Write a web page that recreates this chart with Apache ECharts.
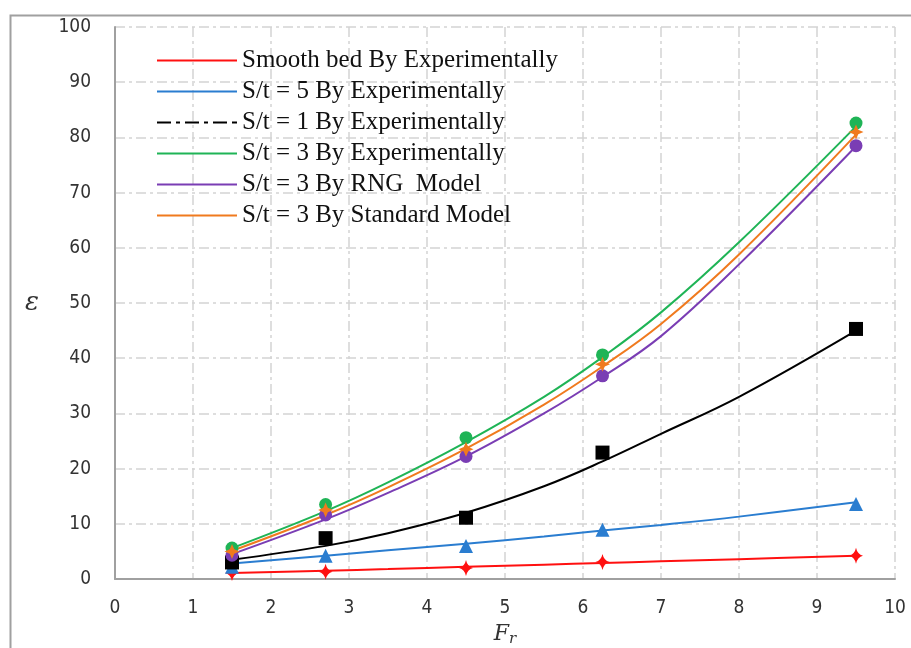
<!DOCTYPE html>
<html>
<head>
<meta charset="utf-8">
<script src="https://cdn.jsdelivr.net/npm/echarts@6/dist/echarts.min.js"></script>
<style>html,body{margin:0;padding:0;background:#fff;}#c{width:911px;height:648px;}</style>
</head>
<body>
<div id="c"></div>
<script>
// Measured points (Fr)
const xPoints = [1.5, 2.7, 4.5, 6.25, 9.5];
const smoothPts = [1.1, 1.3, 2.0, 3.1, 4.2];
const st5Pts = [2.2, 4.2, 6.0, 8.9, 13.6];
const st1Pts = [3.0, 7.4, 11.1, 22.9, 45.3];
const st3ExpPts = [5.6, 13.5, 25.6, 40.6, 82.6];
const st3StdPts = [5.0, 12.5, 23.5, 38.9, 81.0];
const st3RngPts = [4.3, 11.6, 22.2, 36.8, 78.5];

// Trend lines
const xTrend = [1.5, 2.7, 3.5, 4.5, 5.5, 6.25, 7, 8, 9.5];
const smoothTrend = [1.1, 1.5, 1.8, 2.2, 2.6, 2.9, 3.2, 3.6, 4.2];
const st5Trend = [2.8, 4.2, 5.2, 6.4, 7.7, 8.8, 9.8, 11.3, 13.9];
const st1Trend = [3.5, 6.0, 8.3, 12.0, 16.8, 21.3, 26.3, 33.0, 45.0];
const st3ExpTrend = [5.6, 12.3, 17.5, 24.8, 33.0, 40.2, 48.3, 61.0, 82.0];
const st3RngTrend = [4.5, 10.8, 15.6, 22.2, 30.0, 36.6, 44.0, 57.0, 78.4];
const st3StdTrend = [5.1, 11.6, 16.6, 23.6, 31.6, 38.5, 46.2, 58.8, 80.5];

const names = [
  'Smooth bed By Experimentally',
  'S/t = 5 By Experimentally',
  'S/t = 1 By Experimentally',
  'S/t = 3 By Experimentally',
  'S/t = 3 By RNG  Model',
  'S/t = 3 By Standard Model'
];
const xTicks = [0,1,2,3,4,5,6,7,8,9,10];
const yTicks = [0,10,20,30,40,50,60,70,80,90,100];

const colors = ['#ff1010', '#2a7dd0', '#000000', '#1fb456', '#7a3db4', '#f07a1e'];
const trends = [smoothTrend, st5Trend, st1Trend, st3ExpTrend, st3RngTrend, st3StdTrend];
const pts = [smoothPts, st5Pts, st1Pts, st3ExpPts, st3RngPts, st3StdPts];
const symbols = ['path://M0,-10 Q1.5,-2 8,0 Q1.5,2 0,10 Q-1.5,2 -8,0 Q-1.5,-2 0,-10 Z',
  'triangle', 'rect', 'circle', 'circle',
  'path://M0,-10 L3,-3 L10,0 L3,3 L0,10 L-3,3 L-10,0 L-3,-3 Z'];
const sizes = [[14,16], 14, 14, 13, 13, 15];

const zip = (xs, ys) => xs.map((x, i) => [x, ys[i]]);

const series = [];
trends.forEach((t, i) => {
  series.push({
    name: names[i], type: 'line', smooth: 0.4, symbol: 'none',
    data: zip(xTrend, t),
    lineStyle: {color: colors[i], width: 2},
    itemStyle: {color: colors[i]}, z: 2
  });
});
pts.forEach((p, i) => {
  series.push({
    name: 'pts' + i, type: 'scatter', symbol: symbols[i], symbolSize: sizes[i],
    data: zip(xPoints, p), itemStyle: {color: colors[i], opacity: 1}, z: 3
  });
});

const solidIcon = 'path://M0,0h80v2h-80z';
const dashDotIcon = 'path://M0,0h14v2h-14z M19,0h4v2h-4z M28,0h14v2h-14z M47,0h4v2h-4z M56,0h14v2h-14z M75,0h5v2h-5z';

const gridLine = {show: true, lineStyle: {color: '#d4d4d4', width: 1.5, type: [10, 4, 3, 4]}};
const labelFont = {fontFamily: 'Liberation Sans Narrow, DejaVu Sans Condensed, Liberation Sans, sans-serif', fontSize: 19, color: '#333'};

const chart = echarts.init(document.getElementById('c'));
chart.setOption({
  animation: false,
  backgroundColor: '#fff',
  grid: {left: 115, right: 16, top: 27, bottom: 69, containLabel: false, outerBoundsMode: 'none'},
  legend: {
    left: 152, top: 40, orient: 'vertical',
    itemWidth: 80, itemHeight: 2, itemGap: 0,
    textStyle: {fontFamily: 'Liberation Serif, Times New Roman, serif', fontSize: 25, color: '#111', lineHeight: 31},
    data: names.map((n, i) => ({name: n, icon: i === 2 ? dashDotIcon : solidIcon, itemStyle: {color: colors[i]}}))
  },
  xAxis: {
    type: 'value', min: 0, max: 10, interval: 1,
    axisLine: {show: true, lineStyle: {color: '#a0a0a0', width: 2}},
    axisTick: {show: false},
    axisLabel: Object.assign({margin: 20, formatter: v => xTicks.includes(v) ? String(v) : ''}, labelFont),
    splitLine: gridLine,
    name: '{f|F}{s|r}', nameLocation: 'middle', nameGap: 42,
    nameTextStyle: {rich: {
      f: {fontFamily: 'DejaVu Serif, serif', fontStyle: 'italic', fontSize: 22, color: '#333'},
      s: {fontFamily: 'DejaVu Serif, serif', fontStyle: 'italic', fontSize: 15, color: '#333', verticalAlign: 'bottom', padding: [10, 0, 0, 0]}
    }}
  },
  yAxis: {
    type: 'value', min: 0, max: 100, interval: 10,
    axisLine: {show: true, lineStyle: {color: '#a0a0a0', width: 2}},
    axisTick: {show: false},
    axisLabel: Object.assign({margin: 24, formatter: v => yTicks.includes(v) ? String(v) : ''}, labelFont),
    splitLine: gridLine,
    name: 'ε', nameLocation: 'middle', nameGap: 76, nameRotate: 0,
    nameTextStyle: {fontFamily: 'DejaVu Serif, serif', fontStyle: 'italic', fontSize: 26, color: '#333', padding: [0, 0, 8, 0]}
  },
  graphic: [{
    type: 'rect', left: 8, top: 13, silent: true, z: -1,
    shape: {width: 1000, height: 1000},
    style: {fill: 'none', stroke: '#a0a0a0', lineWidth: 2}
  }],
  series: series
});
</script>
</body>
</html>
